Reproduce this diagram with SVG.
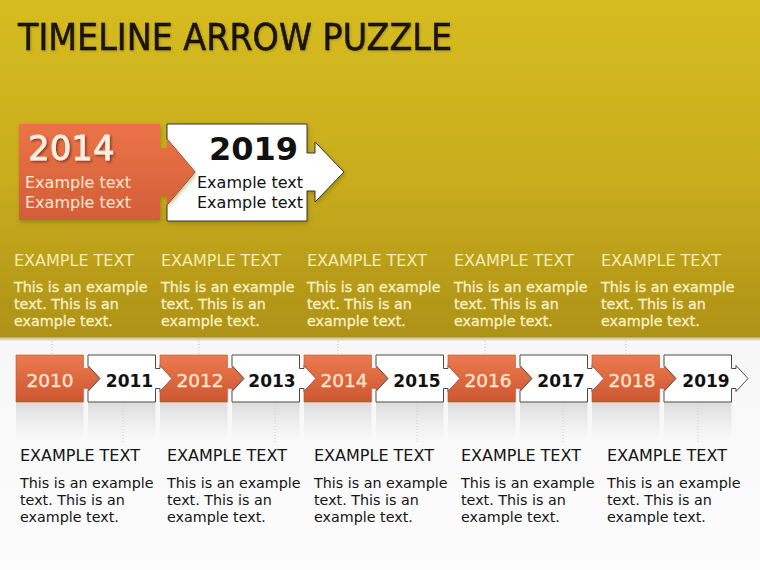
<svg xmlns="http://www.w3.org/2000/svg" xmlns:xlink="http://www.w3.org/1999/xlink" width="760" height="570" viewBox="0 0 760 570">
<defs>
  <linearGradient id="band" x1="0" y1="0" x2="0" y2="1">
    <stop offset="0" stop-color="#d6bc20"/>
    <stop offset="0.55" stop-color="#c8ac1c"/>
    <stop offset="1" stop-color="#ad9217"/>
  </linearGradient>
  <linearGradient id="floor" x1="0" y1="0" x2="0" y2="1">
    <stop offset="0" stop-color="#efefef"/>
    <stop offset="1" stop-color="#fcfcfc"/>
  </linearGradient>
  <linearGradient id="orange" x1="0" y1="0" x2="0" y2="1">
    <stop offset="0" stop-color="#ec7a4f"/>
    <stop offset="1" stop-color="#cc5630"/>
  </linearGradient>
  <linearGradient id="orangeBig" x1="0" y1="0" x2="0" y2="1">
    <stop offset="0" stop-color="#ec7348"/>
    <stop offset="1" stop-color="#d25e38"/>
  </linearGradient>
  <linearGradient id="refl" x1="0" y1="0" x2="0" y2="1">
    <stop offset="0" stop-color="#d8d8d8" stop-opacity="0.9"/>
    <stop offset="1" stop-color="#e8e8e8" stop-opacity="0"/>
  </linearGradient>
  <linearGradient id="edge" x1="0" y1="0" x2="0" y2="1">
    <stop offset="0" stop-color="#9a8418" stop-opacity="0.5"/>
    <stop offset="1" stop-color="#9a8418" stop-opacity="0"/>
  </linearGradient>
  <filter id="shadow" x="-10%" y="-10%" width="130%" height="130%">
    <feDropShadow dx="1.5" dy="1.5" stdDeviation="1" flood-color="#000" flood-opacity="0.45"/>
  </filter>
  <filter id="titleShadow" x="-5%" y="-20%" width="110%" height="140%">
    <feDropShadow dx="1" dy="1" stdDeviation="0.8" flood-color="#5a4a00" flood-opacity="0.35"/>
  </filter>
  <filter id="boxShadow" x="-10%" y="-10%" width="130%" height="130%">
    <feDropShadow dx="1" dy="2" stdDeviation="2" flood-color="#6a5a10" flood-opacity="0.45"/>
  </filter>
  <path id="piece0" d="M0,0 H67.5 V13.5 H72 V10.5 L84,23.5 L72,36.5 V33.5 H67.5 V47 H0 Z"/>
  <path id="pieceN" d="M0,0 H67.5 V13.5 H72 V10.5 L84,23.5 L72,36.5 V33.5 H67.5 V47 H0 V36.5 L12,23.5 L0,10.5 Z"/>
  <rect id="reflBox" x="0" y="0" width="67.5" height="40" fill="url(#refl)"/>
  <style>
    .o { fill: url(#orange); stroke: #c45430; stroke-width: 0.6; }
    .w { fill: #ffffff; stroke: #4a4a4a; stroke-width: 1; }
    .yo { font-family: "DejaVu Sans", "Liberation Sans", sans-serif; font-size: 18.5px; fill: #fbe2cc; stroke: #fbe2cc; stroke-width: 0.4; text-anchor: middle; }
    .yw { font-family: "DejaVu Sans", "Liberation Sans", sans-serif; font-size: 17px; font-weight: bold; fill: #111; text-anchor: middle; }
    .hTop { font-family: "DejaVu Sans", "Liberation Sans", sans-serif; font-size: 16px; fill: #f4ecb4; }
    .bTop { font-family: "DejaVu Sans", "Liberation Sans", sans-serif; font-size: 14.3px; fill: #f8f1c4; stroke: #f8f1c4; stroke-width: 0.3; }
    .hBot { font-family: "DejaVu Sans", "Liberation Sans", sans-serif; font-size: 16px; fill: #141414; }
    .bBot { font-family: "DejaVu Sans", "Liberation Sans", sans-serif; font-size: 14.3px; fill: #141414; }
    .dot { stroke: #c4c4c4; stroke-width: 1; stroke-dasharray: 1 2; fill: none; }
    .dotB { stroke: #cfcfcf; stroke-width: 1; stroke-dasharray: 1 2; fill: none; }
  </style>
</defs>

<!-- background -->
<rect x="0" y="0" width="760" height="570" fill="url(#floor)"/>
<rect x="0" y="0" width="760" height="337" fill="url(#band)"/>
<line x1="0" y1="337" x2="760" y2="337" stroke="#a18a1c" stroke-width="1"/>
<rect x="0" y="337.5" width="760" height="4" fill="url(#edge)"/>

<!-- title -->
<text id="title" x="18" y="50" font-family="'DejaVu Sans Condensed', 'DejaVu Sans', sans-serif" font-stretch="condensed" font-size="38" fill="#1a1205" stroke="#1a1205" stroke-width="0.5" textLength="434" lengthAdjust="spacingAndGlyphs" filter="url(#titleShadow)">TIMELINE ARROW PUZZLE</text>

<!-- top feature pieces -->
<g id="feature-2019">
  <path d="M167,124 H307 V153 H315 V142 L344,172 L315,202 V191 H307 V221 H167 V205 L195,172 L167,139 Z" fill="#ffffff" stroke="#333" stroke-width="1" filter="url(#boxShadow)"/>
  <text x="209" y="160" font-family="'DejaVu Sans', 'Liberation Sans', sans-serif" font-size="32" font-weight="bold" fill="#111">2019</text>
  <text x="197" y="188" font-family="'DejaVu Sans', 'Liberation Sans', sans-serif" font-size="16" fill="#111">Example text</text>
  <text x="197" y="208" font-family="'DejaVu Sans', 'Liberation Sans', sans-serif" font-size="16" fill="#111">Example text</text>
</g>
<g id="feature-2014">
  <path d="M19,124 H160 V148 H167 V139 L195,172 L167,205 V196 H160 V220 H19 Z" fill="url(#orangeBig)" filter="url(#boxShadow)"/>
  <text x="28" y="160" font-family="'DejaVu Sans', 'Liberation Sans', sans-serif" font-size="34" fill="#fdeee2" stroke="#fdeee2" stroke-width="0.8" filter="url(#shadow)">2014</text>
  <text x="25" y="188" font-family="'DejaVu Sans', 'Liberation Sans', sans-serif" font-size="16" fill="#fde6d3">Example text</text>
  <text x="25" y="208" font-family="'DejaVu Sans', 'Liberation Sans', sans-serif" font-size="16" fill="#fde6d3">Example text</text>
</g>

<!-- top captions -->
<g id="caption-top-1"><text class="hTop" x="14" y="266">EXAMPLE TEXT</text><text class="bTop" x="14" y="292">This is an example</text><text class="bTop" x="14" y="309">text. This is an</text><text class="bTop" x="14" y="326">example text.</text></g>
<g id="caption-top-2"><text class="hTop" x="161" y="266">EXAMPLE TEXT</text><text class="bTop" x="161" y="292">This is an example</text><text class="bTop" x="161" y="309">text. This is an</text><text class="bTop" x="161" y="326">example text.</text></g>
<g id="caption-top-3"><text class="hTop" x="307" y="266">EXAMPLE TEXT</text><text class="bTop" x="307" y="292">This is an example</text><text class="bTop" x="307" y="309">text. This is an</text><text class="bTop" x="307" y="326">example text.</text></g>
<g id="caption-top-4"><text class="hTop" x="454" y="266">EXAMPLE TEXT</text><text class="bTop" x="454" y="292">This is an example</text><text class="bTop" x="454" y="309">text. This is an</text><text class="bTop" x="454" y="326">example text.</text></g>
<g id="caption-top-5"><text class="hTop" x="601" y="266">EXAMPLE TEXT</text><text class="bTop" x="601" y="292">This is an example</text><text class="bTop" x="601" y="309">text. This is an</text><text class="bTop" x="601" y="326">example text.</text></g>

<!-- reflections -->
<g id="reflections">
  <use href="#reflBox" x="16" y="402"/>
  <use href="#reflBox" x="88" y="402"/>
  <use href="#reflBox" x="160" y="402"/>
  <use href="#reflBox" x="232" y="402"/>
  <use href="#reflBox" x="304" y="402"/>
  <use href="#reflBox" x="376" y="402"/>
  <use href="#reflBox" x="448" y="402"/>
  <use href="#reflBox" x="520" y="402"/>
  <use href="#reflBox" x="592" y="402"/>
  <use href="#reflBox" x="664" y="402"/>
</g>

<!-- connectors -->
<g id="connectors">
  <line class="dot" x1="52" y1="338" x2="52" y2="355"/>
  <line class="dot" x1="199" y1="338" x2="199" y2="355"/>
  <line class="dot" x1="338" y1="338" x2="338" y2="355"/>
  <line class="dot" x1="485" y1="338" x2="485" y2="355"/>
  <line class="dot" x1="626" y1="338" x2="626" y2="355"/>
  <line class="dotB" x1="123" y1="402" x2="123" y2="442"/>
  <line class="dotB" x1="275" y1="402" x2="275" y2="442"/>
  <line class="dotB" x1="417" y1="402" x2="417" y2="442"/>
  <line class="dotB" x1="563" y1="402" x2="563" y2="442"/>
  <line class="dotB" x1="698" y1="402" x2="698" y2="442"/>
</g>

<!-- timeline -->
<g id="y2010"><use href="#piece0" class="o" x="16" y="355"/><text class="yo" x="50" y="387">2010</text></g>
<g id="y2011"><use href="#pieceN" class="w" x="88" y="355"/><text class="yw" x="129.5" y="387">2011</text></g>
<g id="y2012"><use href="#pieceN" class="o" x="160" y="355"/><text class="yo" x="200" y="387">2012</text></g>
<g id="y2013"><use href="#pieceN" class="w" x="232" y="355"/><text class="yw" x="272" y="387">2013</text></g>
<g id="y2014"><use href="#pieceN" class="o" x="304" y="355"/><text class="yo" x="344" y="387">2014</text></g>
<g id="y2015"><use href="#pieceN" class="w" x="376" y="355"/><text class="yw" x="417" y="387">2015</text></g>
<g id="y2016"><use href="#pieceN" class="o" x="448" y="355"/><text class="yo" x="488" y="387">2016</text></g>
<g id="y2017"><use href="#pieceN" class="w" x="520" y="355"/><text class="yw" x="561" y="387">2017</text></g>
<g id="y2018"><use href="#pieceN" class="o" x="592" y="355"/><text class="yo" x="632" y="387">2018</text></g>
<g id="y2019"><use href="#pieceN" class="w" x="664" y="355"/><text class="yw" x="706" y="387">2019</text></g>

<!-- bottom captions -->
<g id="caption-bot-1"><text class="hBot" x="20" y="461">EXAMPLE TEXT</text><text class="bBot" x="20" y="488">This is an example</text><text class="bBot" x="20" y="505">text. This is an</text><text class="bBot" x="20" y="522">example text.</text></g>
<g id="caption-bot-2"><text class="hBot" x="167" y="461">EXAMPLE TEXT</text><text class="bBot" x="167" y="488">This is an example</text><text class="bBot" x="167" y="505">text. This is an</text><text class="bBot" x="167" y="522">example text.</text></g>
<g id="caption-bot-3"><text class="hBot" x="314" y="461">EXAMPLE TEXT</text><text class="bBot" x="314" y="488">This is an example</text><text class="bBot" x="314" y="505">text. This is an</text><text class="bBot" x="314" y="522">example text.</text></g>
<g id="caption-bot-4"><text class="hBot" x="461" y="461">EXAMPLE TEXT</text><text class="bBot" x="461" y="488">This is an example</text><text class="bBot" x="461" y="505">text. This is an</text><text class="bBot" x="461" y="522">example text.</text></g>
<g id="caption-bot-5"><text class="hBot" x="607" y="461">EXAMPLE TEXT</text><text class="bBot" x="607" y="488">This is an example</text><text class="bBot" x="607" y="505">text. This is an</text><text class="bBot" x="607" y="522">example text.</text></g>
</svg>
